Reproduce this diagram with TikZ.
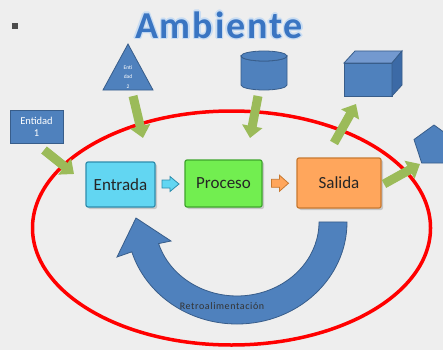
\documentclass[tikz,border=0pt]{standalone}
\usepackage{fontspec}
\setmainfont{Carlito}
\newfontfamily\titlefont[LetterSpace=5]{Carlito}
\newfontfamily\spacedfont[LetterSpace=6]{Carlito}
\usetikzlibrary{arrows.meta,shadows,calc}
\definecolor{bg}{HTML}{EEEEEE}
\definecolor{bluefill}{HTML}{4F81BD}
\definecolor{blueline}{HTML}{385D8A}
\definecolor{bluelight}{HTML}{7399CF}
\definecolor{bluedark}{HTML}{3C6AA6}
\definecolor{greenarr}{HTML}{9BBB59}
\definecolor{cyanfill}{HTML}{62D6F2}
\definecolor{cyanline}{HTML}{2D8DAD}
\definecolor{greenfill}{HTML}{72EE50}
\definecolor{greenline}{HTML}{3EA52C}
\definecolor{orangefill}{HTML}{FFA65C}
\definecolor{orangeline}{HTML}{C8782F}
\definecolor{titleblue}{HTML}{3A75C2}
\definecolor{glow}{HTML}{C9DDF3}
\tikzset{
  procbox/.style={draw, line width=1.2pt, rounded corners=2pt, inner sep=0pt,
    font=\fontsize{17}{20}\selectfont, text=black!85,
    drop shadow={shadow xshift=2pt, shadow yshift=-2pt, opacity=0.35}},
  garrow/.style={draw=greenarr, line width=9pt, -{Triangle[width=20pt,length=12pt]}},
  bshape/.style={fill=bluefill, draw=blueline, line width=0.8pt},
  smallarr/.style={line width=0.8pt, line join=miter},
  titletext/.style={font=\titlefont\bfseries\fontsize{38}{40}\selectfont}
}
\begin{document}
\begin{tikzpicture}[x=1pt,y=-1pt]
\useasboundingbox (0,0) rectangle (443,350);
\clip (0,0) rectangle (443,350);
\fill[bg] (0,0) rectangle (443,350);

% bullet
\fill[black!70] (11.5,23.5) rectangle (17.5,29.5);

% title with glow
\foreach \dx/\dy in {-1.3/0,1.3/0,0/-1.3,0/1.3,-1/-1,1/1,-1/1,1/-1}
  \node[titletext, text=glow] at (219+\dx,25+\dy) {Ambiente};
\node[titletext, text=titleblue] (title) at (219,25) {Ambiente};

% red ellipse
\draw[red, line width=3.5pt] (231.5,228) ellipse [x radius=199, y radius=117];

% triangle Entidad 2
\draw[bshape] (128,44) -- (153,90) -- (103,90) -- cycle;
\node[text=white, font=\fontsize{5.5}{9.5}\selectfont, align=center, inner sep=0pt] (ent2) at (128,77) {Enti\\dad\\2};

% cylinder
\draw[bshape] (241,56) -- (241,85) arc[start angle=180, end angle=0, x radius=23, y radius=5] -- (287,56) arc[start angle=0, end angle=180, x radius=23, y radius=5] -- cycle;
\draw[bshape] (264,56) ellipse [x radius=23, y radius=5];
\coordinate (cyl) at (264,70);

% cube
\draw[fill=bluefill, draw=blueline, line width=0.8pt] (344,63) rectangle (392,96);
\draw[fill=bluelight, draw=blueline, line width=0.8pt] (344,63) -- (355,51) -- (402,51) -- (392,63) -- cycle;
\draw[fill=bluedark, draw=blueline, line width=0.8pt] (392,63) -- (402,51) -- (402,85) -- (392,96) -- cycle;
\coordinate (cube) at (368,80);

% pentagon
\draw[bshape] (434,125) -- (454,139.5) -- (446.3,163) -- (421.7,163) -- (414,139.5) -- cycle;
\coordinate (pent) at (434,146);

% Entidad 1
\node[fill=bluefill, draw=blueline, line width=0.8pt, minimum width=53pt, minimum height=33pt,
  inner sep=0pt, text=white, align=center, font=\fontsize{10.5}{12}\selectfont] (ent1) at (36.5,126.5) {Entidad\\1};

% process boxes
\node[procbox, fill=cyanfill, draw=cyanline, minimum width=69pt, minimum height=45pt] (entrada) at (120.5,184.5) {Entrada};
\node[procbox, fill=greenfill, draw=greenline, minimum width=77pt, minimum height=47pt] (proceso) at (223.5,183.5) {Proceso};
\node[procbox, fill=orangefill, draw=orangeline, minimum width=84pt, minimum height=50pt] (salida) at (339,183) {Salida};

% small block arrows
\coordinate (a1) at ($(entrada.east)!0.5!(proceso.west)$);
\draw[smallarr, fill=cyanfill, draw=cyanline] ([shift={(-8,-4)}]a1) -- ([shift={(0,-4)}]a1) -- ([shift={(0,-7.5)}]a1) -- ([shift={(9,0)}]a1) -- ([shift={(0,7.5)}]a1) -- ([shift={(0,4)}]a1) -- ([shift={(-8,4)}]a1) -- cycle;
\coordinate (a2) at ($(proceso.east)!0.5!(salida.west)$);
\draw[smallarr, fill=orangefill, draw=orangeline] ([shift={(-8,-4)}]a2) -- ([shift={(0,-4)}]a2) -- ([shift={(0,-8)}]a2) -- ([shift={(9,0)}]a2) -- ([shift={(0,8)}]a2) -- ([shift={(0,4)}]a2) -- ([shift={(-8,4)}]a2) -- cycle;

% green arrows
\coordinate (g1s) at (44,150);  \coordinate (g1e) at (74,174);
\coordinate (g2s) at (133,96);  \coordinate (g2e) at (143,138);
\coordinate (g3s) at (258,96);  \coordinate (g3e) at (250,138);
\coordinate (g4s) at (334,143); \coordinate (g4e) at (356,104);
\coordinate (g5s) at (384,184); \coordinate (g5e) at (420,164);
\draw[garrow] (g1s) -- (g1e);
\draw[garrow] (g2s) -- (g2e);
\draw[garrow] (g3s) -- (g3e);
\draw[garrow] (g4s) -- (g4e);
\draw[garrow] (g5s) -- (g5e);

% feedback arrow
\draw[bshape, line join=miter] (347,222) arc[start angle=0, end angle=163, x radius=110, y radius=102]
  -- (117,257) -- (136,218) -- (171,241) -- (158.6,243.6)
  arc[start angle=163, end angle=0, x radius=82, y radius=74] -- cycle;
\node[font=\spacedfont\fontsize{10}{12}\selectfont, text=black!80, inner sep=0pt] (retro) at (222,306) {Retroalimentación};
\end{tikzpicture}
\end{document}
